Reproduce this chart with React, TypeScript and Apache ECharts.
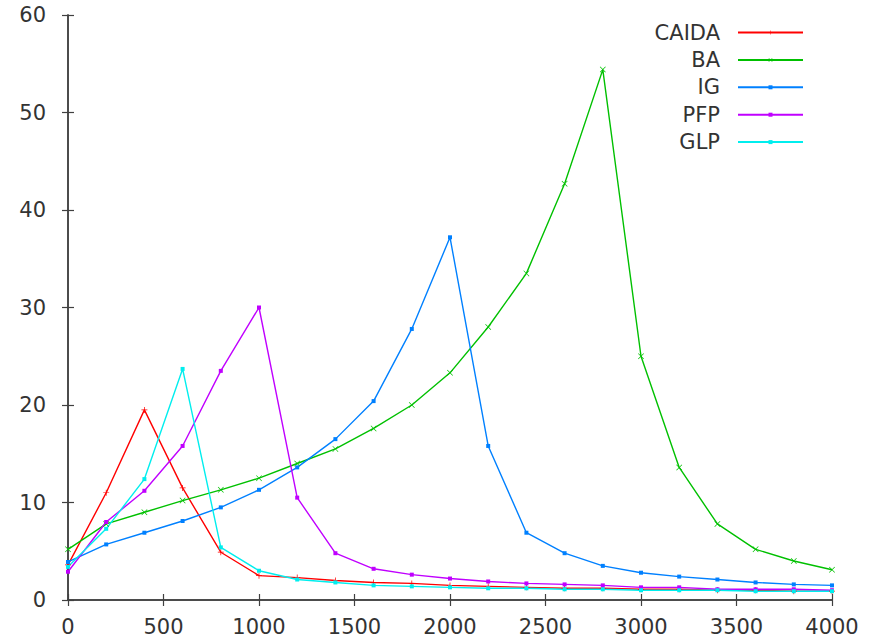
import React, { useEffect, useRef } from "react";
import * as echarts from "echarts";

const xValues = [0, 200, 400, 600, 800, 1000, 1200, 1400, 1600, 1800, 2000, 2200, 2400, 2600, 2800, 3000, 3200, 3400, 3600, 3800, 4000];
const caida = [3.6, 11.0, 19.5, 11.5, 4.9, 2.5, 2.3, 2.0, 1.8, 1.7, 1.5, 1.4, 1.3, 1.2, 1.2, 1.1, 1.1, 1.0, 1.0, 0.9, 0.9];
const ba = [5.2, 7.8, 9.0, 10.2, 11.3, 12.5, 14.0, 15.5, 17.6, 20.0, 23.3, 28.0, 33.5, 42.7, 54.4, 25.0, 13.6, 7.8, 5.2, 4.0, 3.1];
const ig = [3.9, 5.7, 6.9, 8.1, 9.5, 11.3, 13.6, 16.5, 20.4, 27.8, 37.2, 15.8, 6.9, 4.8, 3.5, 2.8, 2.4, 2.1, 1.8, 1.6, 1.5];
const pfp = [2.9, 8.0, 11.2, 15.8, 23.5, 30.0, 10.5, 4.8, 3.2, 2.6, 2.2, 1.9, 1.7, 1.6, 1.5, 1.3, 1.3, 1.1, 1.1, 1.1, 1.0];
const glp = [3.4, 7.3, 12.4, 23.7, 5.4, 3.0, 2.1, 1.8, 1.5, 1.4, 1.3, 1.2, 1.2, 1.1, 1.1, 1.0, 1.0, 1.0, 0.9, 0.9, 0.9];

const seriesNames = ["CAIDA", "BA", "IG", "PFP", "GLP"];
const seriesValues = [caida, ba, ig, pfp, glp];
const colors = ["#ff0000", "#00c000", "#0080ff", "#c000ff", "#00eeee"];

const plusSymbol = "path://M-0.6,-5 L0.6,-5 L0.6,-0.6 L5,-0.6 L5,0.6 L0.6,0.6 L0.6,5 L-0.6,5 L-0.6,0.6 L-5,0.6 L-5,-0.6 L-0.6,-0.6 Z";
const crossSymbol = "path://M-5,-4.2 L-4.2,-5 L0,-0.8 L4.2,-5 L5,-4.2 L0.8,0 L5,4.2 L4.2,5 L0,0.8 L-4.2,5 L-5,4.2 L-0.8,0 Z";
const symbols = [plusSymbol, crossSymbol, "rect", "rect", "rect"];
const symbolSizes = [6, 6, 4, 4, 4];

const FONT = "DejaVu Sans";
const AXIS_COLOR = "#404040";
const TEXT_COLOR = "#333333";

export default function App() {
  const ref = useRef<HTMLDivElement>(null);
  useEffect(() => {
    if (!ref.current) return;
    const chart = echarts.init(ref.current, undefined, { renderer: "svg" });
    const axisCommon = {
      type: "value" as const,
      axisLine: { show: true, lineStyle: { color: AXIS_COLOR, width: 1.5 } },
      axisTick: { show: true, inside: true, length: 6, lineStyle: { color: AXIS_COLOR, width: 1.2 } },
      splitLine: { show: false },
    };
    chart.setOption({
      animation: false,
      backgroundColor: "#ffffff",
      textStyle: { fontFamily: FONT },
      grid: { left: 68, right: 45, top: 15, bottom: 40, containLabel: false },
      legend: {
        orient: "vertical",
        right: 68,
        top: 16,
        align: "right",
        itemWidth: 65,
        itemHeight: 5,
        itemGap: 4.4,
        textStyle: {
          fontFamily: FONT,
          fontSize: 21,
          color: TEXT_COLOR,
          width: 72,
          lineHeight: 23,
          align: "right",
          padding: [0, 13, 0, 0],
        },
        data: seriesNames,
      },
      xAxis: [
        {
          ...axisCommon,
          position: "bottom",
          min: 0,
          max: 4000,
          interval: 500,
          axisLabel: { color: TEXT_COLOR, fontSize: 21, fontFamily: FONT, margin: 16, formatter: (v: number) => String(v) },
        },
        {
          ...axisCommon,
          position: "top",
          min: 0,
          max: 4000,
          interval: 500,
          axisLabel: { show: false },
        },
      ],
      yAxis: [
        {
          ...axisCommon,
          position: "left",
          min: 0,
          max: 60,
          interval: 10,
          axisLabel: { color: TEXT_COLOR, fontSize: 21, fontFamily: FONT, margin: 22 },
        },
        {
          ...axisCommon,
          position: "right",
          min: 0,
          max: 60,
          interval: 10,
          axisLabel: { show: false },
        },
      ],
      series: seriesNames.map((name, i) => ({
        name,
        type: "line",
        xAxisIndex: 0,
        yAxisIndex: 0,
        data: xValues.map((x, j) => [x, seriesValues[i][j]]),
        symbol: symbols[i],
        symbolSize: symbolSizes[i],
        showSymbol: true,
        color: colors[i],
        lineStyle: { color: colors[i], width: 1.4 },
        itemStyle: { color: colors[i] },
        emphasis: { disabled: true },
      })),
    });
    return () => chart.dispose();
  }, []);
  return <div ref={ref} style={{ width: 877, height: 640, position: "absolute", left: 0, top: 0 }} />;
}
